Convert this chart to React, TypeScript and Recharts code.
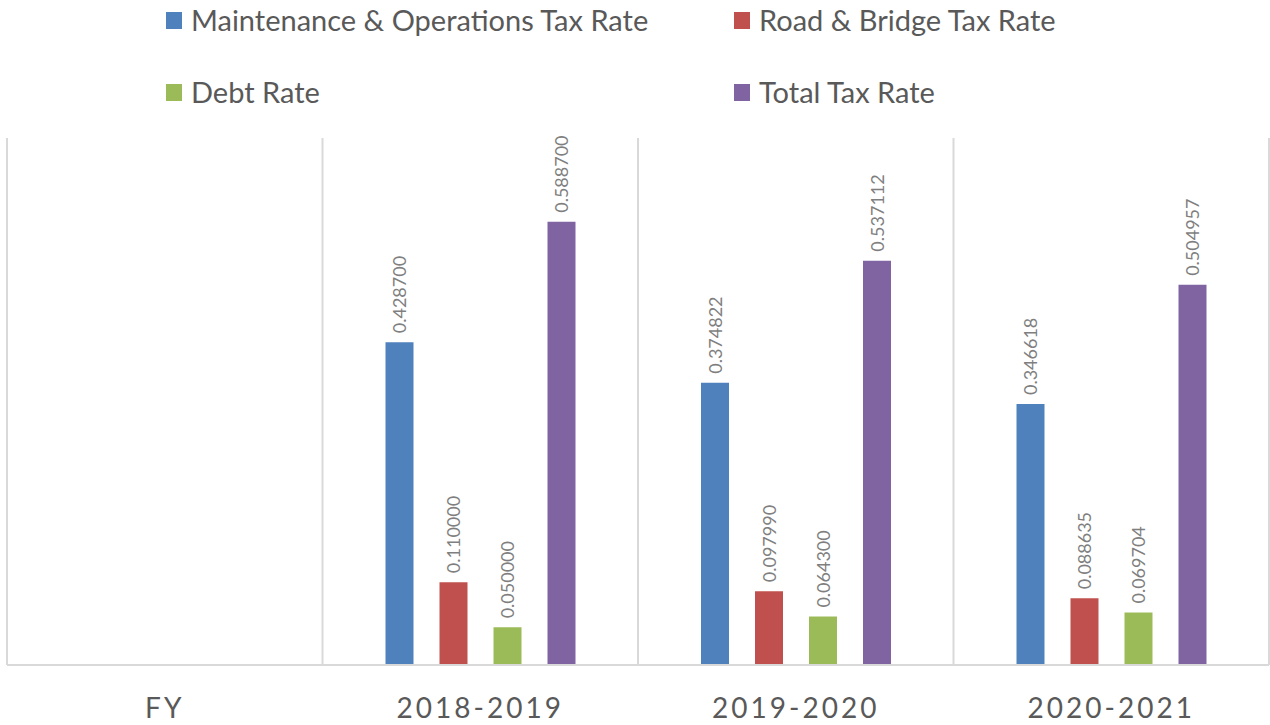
import { BarChart, Bar, XAxis, YAxis, CartesianGrid, Legend, LabelList } from 'recharts';

const categories = ['FY', '2018-2019', '2019-2020', '2020-2021'];
const maintenance = [null, 0.4287, 0.374822, 0.346618];
const roadBridge = [null, 0.11, 0.09799, 0.088635];
const debt = [null, 0.05, 0.0643, 0.069704];
const total = [null, 0.5887, 0.537112, 0.504957];

const SERIES = [
  { key: 'maintenance', name: 'Maintenance & Operations Tax Rate', color: '#4f81bd' },
  { key: 'roadBridge', name: 'Road & Bridge Tax Rate', color: '#c0504d' },
  { key: 'debt', name: 'Debt Rate', color: '#9bbb59' },
  { key: 'total', name: 'Total Tax Rate', color: '#8064a2' },
];

const data = categories.map((c, i) => ({
  category: c,
  maintenance: maintenance[i],
  roadBridge: roadBridge[i],
  debt: debt[i],
  total: total[i],
}));

const FONT = 'Lato, "Open Sans", sans-serif';
const TEXT = '#595959';

function RotatedLabel(props: any) {
  const { x, y, width, value } = props;
  if (value == null) return null;
  const cx = x + width / 2;
  const ty = y - 9;
  return (
    <text
      x={cx}
      y={ty}
      transform={`rotate(-90 ${cx} ${ty})`}
      textAnchor="start"
      dominantBaseline="central"
      fill="#7f7f7f"
      fontSize={18}
      fontFamily={FONT}
    >
      {Number(value).toFixed(6)}
    </text>
  );
}

function LegendBox() {
  return (
    <div
      style={{
        display: 'grid',
        gridTemplateColumns: '568px 500px',
        gridAutoRows: '30px',
        rowGap: 42,
        paddingLeft: 159,
        paddingTop: 4,
        height: 137,
        boxSizing: 'border-box',
        fontFamily: FONT,
        fontSize: 29,
        lineHeight: '30px',
        color: TEXT,
        textAlign: 'left',
      }}
    >
      {SERIES.map((s) => (
        <div key={s.key} style={{ display: 'flex', alignItems: 'center', height: 30 }}>
          <span style={{ width: 16, height: 17, background: s.color, marginRight: 9, display: 'inline-block', flexShrink: 0 }} />
          <span style={{ whiteSpace: 'nowrap' }}>{s.name}</span>
        </div>
      ))}
    </div>
  );
}

export default function App() {
  return (
    <div style={{ position: 'absolute', left: 0, top: 0, background: '#fff' }}>
      <BarChart
        width={1270}
        height={725}
        data={data}
        margin={{ top: 1, right: 1, bottom: 0, left: 7 }}
        barSize={28}
        barGap={26}
      >
        <CartesianGrid
          horizontal={false}
          stroke="#d9d9d9"
          strokeWidth={2}
          verticalCoordinatesGenerator={({ offset }: any) =>
            categories.map((_, i) => offset.left + (i * offset.width) / categories.length).concat(offset.left + offset.width)
          }
        />
        <XAxis
          dataKey="category"
          axisLine={{ stroke: '#d9d9d9', strokeWidth: 2 }}
          tickLine={false}
          height={60}
          tick={{ fill: TEXT, fontSize: 28, fontFamily: FONT, letterSpacing: 3 }}
          tickMargin={27}
        />
        <YAxis hide domain={[0, 0.7]} />
        <Legend verticalAlign="top" content={<LegendBox />} />
        {SERIES.map((s) => (
          <Bar key={s.key} dataKey={s.key} name={s.name} fill={s.color} isAnimationActive={false}>
            <LabelList dataKey={s.key} content={<RotatedLabel />} />
          </Bar>
        ))}
      </BarChart>
    </div>
  );
}
